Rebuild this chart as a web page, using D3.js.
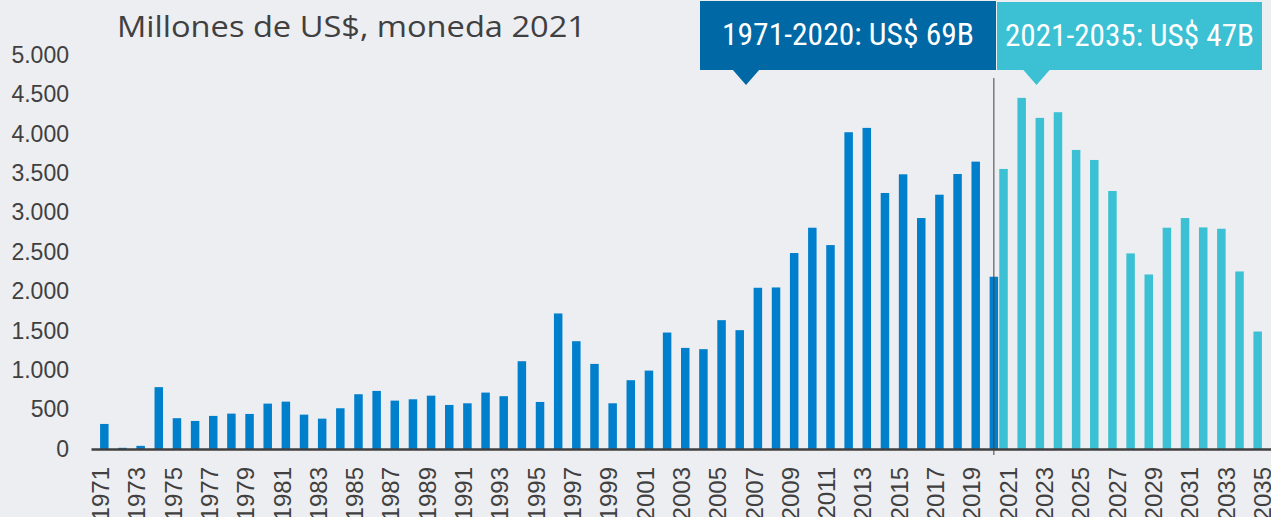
<!DOCTYPE html>
<html>
<head>
<meta charset="utf-8">
<style>
  body { margin: 0; background: #edeef2; }
  svg { display: block; }
  .axis text { fill: #404040; font-family: "Liberation Sans", Arial, sans-serif; }
  .bar--hist { fill: #0080cc; }
  .bar--proj { fill: #3bc1d3; }
  .title { fill: #404040; font-family: "Open Sans", Lato, sans-serif; font-size: 30px; }
  .callout text { fill: #fff; font-family: "Roboto Condensed", Roboto, sans-serif; font-size: 32px; }
</style>
</head>
<body>
<svg width="1271" height="517"></svg>
<script src="https://d3js.org/d3.v7.min.js"></script>
<script>
// años históricos y proyección
var histYears = d3.range(1971, 2021);
var histValues = [318, 15, 40, 785, 391, 356, 420, 449, 445, 576,
  601, 436, 385, 517, 695, 737, 614, 631, 677, 559,
  580, 716, 670, 1114, 597, 1720, 1368, 1080, 580, 873,
  995, 1478, 1283, 1267, 1635, 1508, 2046, 2050, 2487, 2808,
  2588, 4020, 4075, 3249, 3486, 2931, 3227, 3490, 3647, 2186];
var projYears = d3.range(2021, 2036);
var projValues = [3554, 4456, 4202, 4274, 3795, 3668, 3274, 2482, 2215, 2808,
  2931, 2812, 2795, 2253, 1491];
var yTicks = [0, 500, 1000, 1500, 2000, 2500, 3000, 3500, 4000, 4500, 5000];
var xTickLabels = [1971, 1973, 1975, 1977, 1979, 1981, 1983, 1985, 1987, 1989,
  1991, 1993, 1995, 1997, 1999, 2001, 2003, 2005, 2007, 2009, 2011, 2013, 2015,
  2017, 2019, 2021, 2023, 2025, 2027, 2029, 2031, 2033, 2035];
var callouts = ["1971-2020: US$ 69B", "2021-2035: US$ 47B"];
var titleText = "Millones de US$, moneda 2021";

var svg = d3.select("svg");
var years = histYears.concat(projYears);
var baseY = 449;

var x = d3.scaleBand().domain(years).range([91, 1271]).paddingInner(0.063).paddingOuter(0.0315);
var x1 = d3.scaleBand().domain(["proj", "hist"]).range([0, x.bandwidth()]);
var y = d3.scaleLinear().domain([0, 5000]).range([baseY, 55]);

var es = d3.formatLocale({ decimal: ",", thousands: ".", grouping: [3], currency: ["$", ""] });

// eje y
svg.append("g")
  .attr("class", "axis axis--y")
  .attr("transform", "translate(70,0)")
  .call(d3.axisLeft(y).tickValues(yTicks).tickSize(0).tickPadding(1).tickFormat(es.format(",")))
  .call(function(g) { g.select(".domain").remove(); })
  .selectAll("text")
  .style("font-size", "23px");

// barras
function bars(cls, yrs, vals, key) {
  svg.append("g").selectAll("rect")
    .data(yrs.map(function(d, i) { return { year: d, value: vals[i] }; }))
    .enter().append("rect")
    .attr("class", "bar " + cls)
    .attr("x", function(d) { return x(d.year) + x1(key); })
    .attr("y", function(d) { return y(d.value); })
    .attr("width", x1.bandwidth())
    .attr("height", function(d) { return baseY - y(d.value); });
}
bars("bar--hist", histYears, histValues, "hist");
bars("bar--proj", projYears, projValues, "proj");

// eje x
var xAxis = svg.append("g")
  .attr("class", "axis axis--x")
  .attr("transform", "translate(0," + baseY + ")")
  .call(d3.axisBottom(x).tickValues(xTickLabels).tickSize(0).tickPadding(0));
xAxis.select(".domain").attr("stroke", "#404040").attr("stroke-width", 2.5);
xAxis.selectAll("text")
  .style("font-size", "24px")
  .attr("transform", "rotate(-90)")
  .attr("x", -18)
  .attr("y", 0)
  .attr("dy", "0.37em")
  .style("text-anchor", "end");

// separador
var sepX = x(2020) + x1("hist") + x1.bandwidth() / 2;
svg.append("line")
  .attr("x1", sepX).attr("x2", sepX)
  .attr("y1", 78).attr("y2", 455)
  .attr("stroke", "#404040").attr("stroke-width", 1);

// título
svg.append("text")
  .attr("class", "title")
  .attr("x", 117)
  .attr("y", 37)
  .attr("textLength", 469)
  .attr("lengthAdjust", "spacingAndGlyphs")
  .text(titleText);

// recuadros
var boxes = [
  { x0: 700, x1: 996, y0: 1, tip: 746, fill: "#0068a5", text: callouts[0] },
  { x0: 997, x1: 1262, y0: 2, tip: 1036.5, fill: "#3bc1d3", text: callouts[1] }
];
var cg = svg.append("g").attr("class", "callout");
boxes.forEach(function(b) {
  cg.append("rect")
    .attr("x", b.x0).attr("y", b.y0)
    .attr("width", b.x1 - b.x0).attr("height", 70 - b.y0)
    .attr("fill", b.fill);
  cg.append("path")
    .attr("d", "M" + (b.tip - 14) + ",69L" + (b.tip + 14) + ",69L" + b.tip + ",85Z")
    .attr("fill", b.fill);
  cg.append("text")
    .attr("x", (b.x0 + b.x1) / 2)
    .attr("y", 45 + (b.y0 - 1))
    .attr("text-anchor", "middle")
    .attr("textLength", b.text === callouts[0] ? 252 : 249)
    .attr("lengthAdjust", "spacingAndGlyphs")
    .text(b.text);
});
</script>
</body>
</html>
